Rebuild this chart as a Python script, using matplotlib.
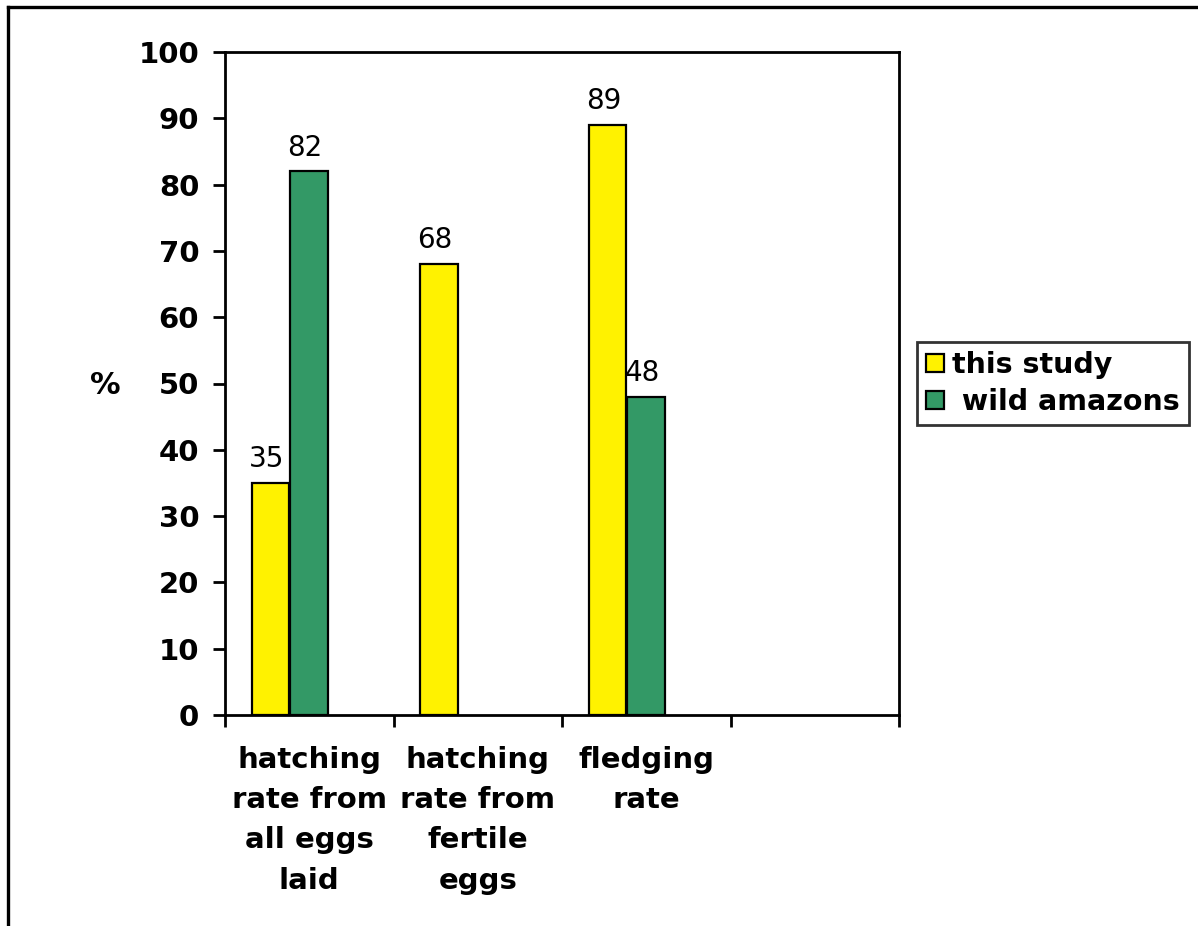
import matplotlib
matplotlib.use('Agg')
import matplotlib.pyplot as plt
from matplotlib.lines import Line2D
import numpy as np

categories = ["hatching\nrate from\nall eggs\nlaid",
              "hatching\nrate from\nfertile\neggs",
              "fledging\nrate",
              ""]
this_study = [35, 68, 89, None]
wild_amazons = [82, None, 48, None]
series_names = ["this study", " wild amazons"]
yticks = list(range(0, 101, 10))

YELLOW = '#FFF200'
GREEN = '#339966'

plt.rcParams['font.family'] = ['DejaVu Sans']

W, H = 1198, 926
fig = plt.figure(figsize=(W / 100, H / 100), dpi=100)
ax = fig.add_axes([225 / W, 1 - 715 / H, (899 - 225) / W, (715 - 52) / H])

x = np.arange(len(categories))
width = 0.225
offsets = [-0.23, 0.0]
colors = [YELLOW, GREEN]
handles = []
for vals, off, col, name in zip([this_study, wild_amazons], offsets, colors, series_names):
    xs = [xi + off for xi, v in zip(x, vals) if v is not None]
    ys = [v for v in vals if v is not None]
    bars = ax.bar(xs, ys, width=width, color=col, edgecolor='black',
                  linewidth=1.6, label=name, zorder=3)
    handles.append(bars)
    for bx, by in zip(xs, ys):
        ax.annotate(str(by), (bx, by), xytext=(-3, 7), textcoords='offset points',
                    ha='center', va='bottom', fontsize=20)

ax.set_xlim(-0.5, len(categories) - 0.5)
ax.set_ylim(0, 100)
ax.set_yticks(yticks)
ax.set_yticklabels([str(t) for t in yticks], fontsize=21, fontweight='bold')
ax.tick_params(axis='y', direction='out', length=8.6, width=2, pad=10)

ax.set_xticks(np.arange(-0.5, len(categories), 1.0))
ax.set_xticklabels([])
ax.tick_params(axis='x', which='major', direction='out', length=8.6, width=2)
ax.set_xticks(x, minor=True)
ax.set_xticklabels(categories, minor=True, fontsize=21, fontweight='bold',
                   linespacing=1.56)
ax.tick_params(axis='x', which='minor', length=0, pad=22)

for s in ax.spines.values():
    s.set_linewidth(2)
    s.set_color('black')

fig.text(105 / W, 1 - 385 / H, '%', ha='center', va='center',
         fontsize=22, fontweight='bold')

leg = fig.legend(handles=handles, labels=series_names, loc='center left',
                 bbox_to_anchor=(917 / W, 1 - 383.5 / H), prop={'size': 20.5, 'weight': 'bold'},
                 frameon=True, fancybox=False, edgecolor='black',
                 handlelength=0.62, handleheight=0.62, handletextpad=0.3,
                 borderpad=0.32, labelspacing=0.32, borderaxespad=0)
leg.get_frame().set_linewidth(2)

# outer frame (only left and top edges are inside the picture)
fig.add_artist(Line2D([8 / W, 8 / W], [0, 1 - 7 / H], transform=fig.transFigure,
                      color='black', lw=2.4))
fig.add_artist(Line2D([8 / W, 1], [1 - 7 / H, 1 - 7 / H], transform=fig.transFigure,
                      color='black', lw=2.4))

fig.savefig('out.png', dpi=100)
